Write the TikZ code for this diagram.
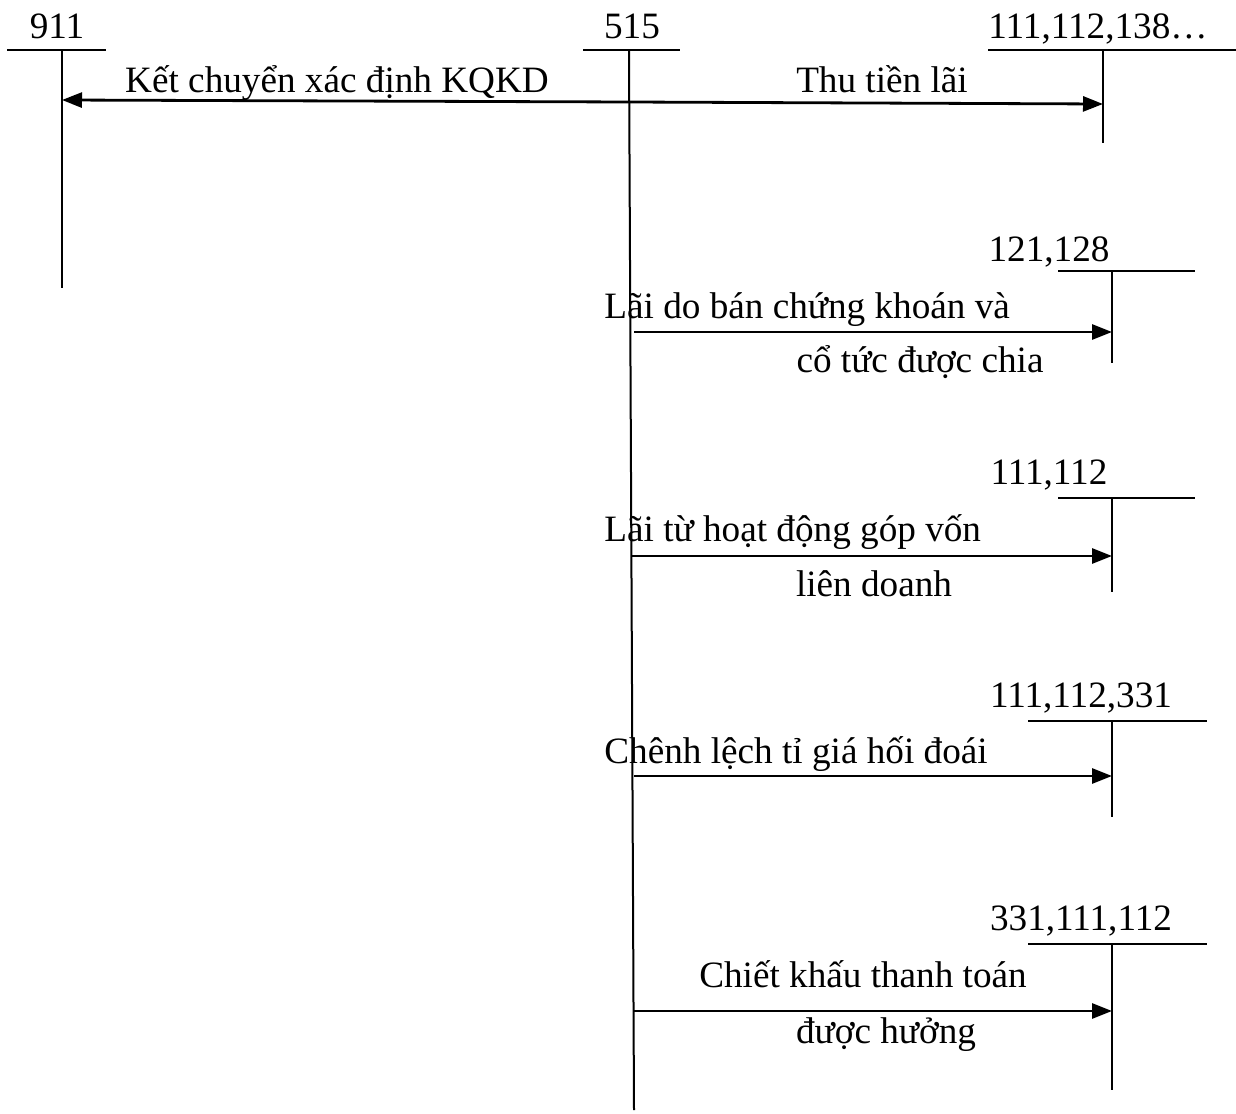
\documentclass[tikz,border=0pt]{standalone}
\usepackage{fontspec}
\setmainfont{Liberation Serif}
\usetikzlibrary{arrows.meta,positioning}
\tikzset{
  tacc/.style={line width=1pt},
  flowarr/.style={-{Triangle[length=10pt,width=7.5pt]}, line width=1.4pt},
  accno/.style={font=\fontsize{18.6}{22}\selectfont, inner sep=0pt, anchor=base},
  lbl/.style={font=\fontsize{18.6}{22}\selectfont, inner sep=0pt, anchor=base},
  lbll/.style={lbl, anchor=base west},
}

\begin{document}
\begin{tikzpicture}[x=0.5pt, y=-0.5pt]
    \useasboundingbox (0,0) rectangle (1236,1113);
    % account numbers
    \node[accno] (n911) at (57,39) {911};
    \node[accno] (n515) at (632,39) {515};
    \node[accno] (n111a) at (1098,39) {111,112,138…};
    \node[accno] (n121) at (1049,261) {121,128};
    \node[accno] (n111b) at (1049,484) {111,112};
    \node[accno] (n111c) at (1081,707) {111,112,331};
    \node[accno] (n331) at (1081,930) {331,111,112};
    % T-accounts
    \coordinate (t911) at (62,50);   \coordinate (b911) at (62,288);
    \coordinate (t515) at (629,50);  \coordinate (b515) at (634,1110);
    \coordinate (t111a) at (1103,50); \coordinate (b111a) at (1103,143);
    \coordinate (t121) at (1112,271); \coordinate (b121) at (1112,363);
    \coordinate (t111b) at (1112,498); \coordinate (b111b) at (1112,592);
    \coordinate (t111c) at (1112,721); \coordinate (b111c) at (1112,817);
    \coordinate (t331) at (1112,944); \coordinate (b331) at (1112,1090);
    \draw[tacc] (7,50) -- (106,50);  \draw[tacc] (t911) -- (b911);
    \draw[tacc] (583,50) -- (680,50); \draw[tacc] (t515) -- (b515);
    \draw[tacc] (988,50) -- (1236,50); \draw[tacc] (t111a) -- (b111a);
    \draw[tacc] (1058,271) -- (1195,271); \draw[tacc] (t121) -- (b121);
    \draw[tacc] (1058,498) -- (1195,498); \draw[tacc] (t111b) -- (b111b);
    \draw[tacc] (1028,721) -- (1207,721); \draw[tacc] (t111c) -- (b111c);
    \draw[tacc] (1028,944) -- (1207,944); \draw[tacc] (t331) -- (b331);
    % entries
    \coordinate (s0) at (629,102);  \coordinate (e911) at (62,100);
    \coordinate (e111a) at (1103,104);
    \coordinate (s1) at (634,332);  \coordinate (e121) at (1112,332);
    \coordinate (s2) at (631,556);  \coordinate (e111b) at (1112,556);
    \coordinate (s3) at (634,776);  \coordinate (e111c) at (1112,776);
    \coordinate (s4) at (634,1011); \coordinate (e331) at (1112,1011);
    \draw[flowarr] (s0) -- (e911);
    \draw[flowarr] (s0) -- (e111a);
    \draw[flowarr] (s1) -- (e121);
    \draw[flowarr] (s2) -- (e111b);
    \draw[flowarr] (s3) -- (e111c);
    \draw[flowarr] (s4) -- (e331);
    \node[lbl] (kc) at (337,93) {Kết chuyển xác định KQKD};
    \node[lbl] (tl) at (882,93) {Thu tiền lãi};
    \node[lbll] (ld1) at (604,318) {Lãi do bán chứng khoán và};
    \node[lbl] (ld2) at (920,372) {cổ tức được chia};
    \node[lbll] (lt1) at (604,541) {Lãi từ hoạt động góp vốn};
    \node[lbl] (lt2) at (874,596) {liên doanh};
    \node[lbll] (cl) at (604,763) {Chênh lệch tỉ giá hối đoái};
    \node[lbl] (ck1) at (863,987) {Chiết khấu thanh toán};
    \node[lbl] (ck2) at (886,1043) {được hưởng};
\end{tikzpicture}
\end{document}
